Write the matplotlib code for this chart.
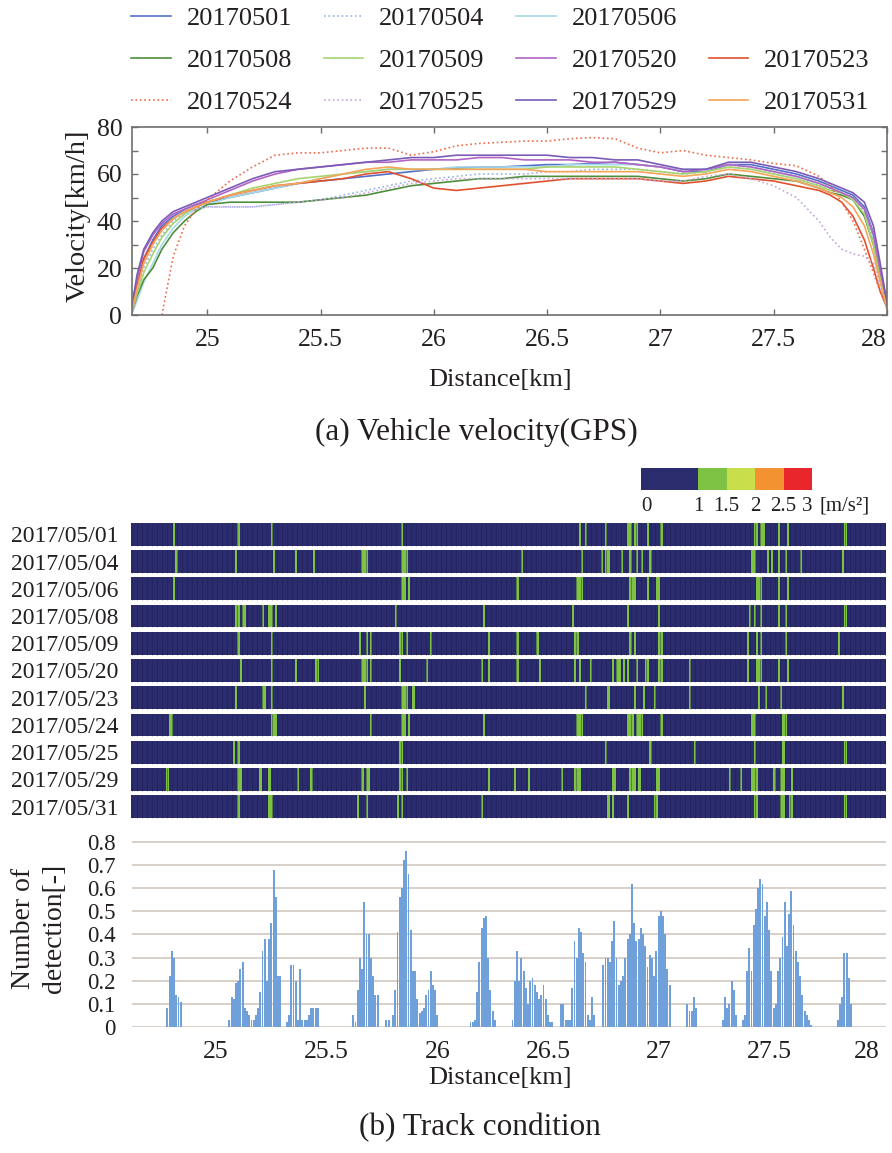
import numpy as np
import matplotlib
matplotlib.use('Agg')
import matplotlib.pyplot as plt
from matplotlib.colors import ListedColormap, BoundaryNorm
from matplotlib.lines import Line2D

plt.rcParams['font.family'] = ['Liberation Serif', 'DejaVu Serif']
plt.rcParams['mathtext.fontset'] = 'stix'

# ---------------- data: (a) vehicle velocity ----------------
dist_km = [24.67, 24.69, 24.72, 24.76, 24.80, 24.85, 24.90, 24.95, 25.0, 25.1, 25.2, 25.3,
           25.4, 25.5, 25.6, 25.7, 25.8, 25.9, 26.0, 26.1, 26.2, 26.3, 26.4, 26.5, 26.6,
           26.7, 26.8, 26.9, 27.0, 27.1, 27.2, 27.3, 27.4, 27.5, 27.6, 27.7, 27.75, 27.8,
           27.85, 27.9, 27.94, 27.97, 28.0]
nan = np.nan
v_20170501 = [3, 12, 24, 32, 38, 42, 45, 47, 48, 50, 52, 54, 56, 57, 58, 59, 60, 61, 62, 62.5, 63, 63,
              63.5, 64, 64, 64.5, 65, 64, 63, 61, 61, 64, 64, 62, 60, 57, 55, 53, 51, 46, 35, 20, 5]
v_20170504 = [2, 10, 20, 28, 34, 40, 43, 45, 46, 46, 46, 47, 48, 49, 51, 53, 55, 57, 58, 59, 60, 60,
              60, 61, 61, 62, 62, 62, 61, 60, 61, 63, 62, 60, 58, 55, 53, 52, 50, 44, 32, 18, 4]
v_20170506 = [1, 6, 14, 22, 30, 37, 42, 45, 47, 50, 52, 54, 56, 58, 60, 61, 62, 62, 62, 63, 63, 63,
              63, 63, 64, 64, 64, 64, 63, 62, 62, 64, 63, 61, 59, 56, 54, 52, 50, 45, 34, 20, 5]
v_20170508 = [2, 8, 15, 20, 28, 35, 40, 44, 47, 48, 48, 48, 48, 49, 50, 51, 53, 55, 56, 57, 58, 58,
              59, 59, 59, 59, 59, 59, 58, 57, 58, 60, 59, 58, 57, 54, 52, 51, 49, 42, 30, 16, 4]
v_20170509 = [2, 9, 18, 26, 33, 39, 43, 46, 48, 51, 54, 56, 58, 59, 60, 61, 62, 62, 62, 62, 62, 62,
              62, 63, 63, 63, 63, 62, 61, 60, 61, 63, 62, 60, 58, 55, 53, 52, 49, 43, 30, 16, 4]
v_20170520 = [4, 15, 27, 34, 39, 43, 45, 47, 49, 53, 57, 60, 62, 63, 64, 65, 65, 66, 66, 66, 67, 67,
              66, 66, 66, 65, 65, 64, 63, 61, 62, 64, 63, 61, 59, 56, 54, 52, 50, 45, 34, 19, 5]
v_20170523 = [3, 12, 24, 31, 37, 41, 44, 46, 48, 51, 53, 55, 56, 57, 58, 60, 61, 58, 54, 53, 54, 55,
              56, 57, 58, 58, 58, 58, 57, 56, 57, 59, 58, 57, 55, 53, 51, 48, 42, 32, 20, 10, 3]
v_20170524 = [nan, nan, nan, nan, 0, 25, 38, 45, 49, 57, 63, 68, 69, 69, 70, 71, 71, 68, 69.5, 72, 73,
              73.5, 74, 74, 75, 75.5, 75, 71, 69, 70, 68, 67, 66, 64.5, 63.5, 59, 55, 48, 40, 28, 18, 10, 4]
v_20170525 = [2, 10, 22, 30, 36, 41, 44, 45, 46, 46, 46, 47, 48, 49, 50, 52, 54, 56, 57, 58, 58, 58,
              58, 58, 58, 58, 58, 58, 57, 57, 59, 60, 58, 55, 50, 40, 33, 28, 26, 25, 22, 12, 3]
v_20170529 = [5, 17, 28, 35, 40, 44, 46, 48, 50, 54, 58, 61, 62, 63, 64, 65, 66, 67, 67, 68, 68, 68,
              68, 68, 67, 67, 66, 66, 64, 62, 62, 65, 65, 63, 61, 58, 56, 54, 52, 48, 38, 22, 5]
v_20170531 = [3, 11, 22, 30, 36, 41, 44, 46, 48, 51, 53, 55, 56, 58, 60, 62, 63, 62, 62, 62, 62, 62,
              62, 61, 61, 61, 61, 61, 60, 59, 60, 62, 61, 59, 57, 54, 52, 50, 46, 38, 26, 14, 3]

series_labels = ['20170501', '20170504', '20170506', '20170508', '20170509', '20170520',
                 '20170523', '20170524', '20170525', '20170529', '20170531']
series_values = [v_20170501, v_20170504, v_20170506, v_20170508, v_20170509, v_20170520,
                 v_20170523, v_20170524, v_20170525, v_20170529, v_20170531]
series_colors = ['#5570c8', '#93b3e8', '#a6d9ea', '#4f8f3c', '#a8d470', '#b264c4',
                 '#e0522f', '#ee6b4b', '#c5a4dd', '#7c5bb8', '#f4a55a']
series_styles = ['-', ':', '-', '-', '-', '-', '-', ':', ':', '-', '-']

# ---------------- data: (b) track condition map ----------------
row_labels = ['2017/05/01', '2017/05/04', '2017/05/06', '2017/05/08', '2017/05/09', '2017/05/20',
              '2017/05/23', '2017/05/24', '2017/05/25', '2017/05/29', '2017/05/31']
stripes_0501 = [24.818, 25.101, 25.259, 25.846, 26.645, 26.675, 26.765, 26.863, 26.878, 26.893, 26.908,
                26.953, 27.013, 27.435, 27.450, 27.465, 27.476, 27.548, 27.590, 27.842]
stripes_0504 = [24.822, 25.093, 25.266, 25.361, 25.447, 25.666, 25.673, 25.681, 25.846, 25.854, 25.861,
                26.389, 26.660, 26.750, 26.762, 26.773, 26.837, 26.878, 26.908, 26.923, 26.968, 27.428,
                27.440, 27.495, 27.518, 27.541, 27.578, 27.646, 27.834]
stripes_0506 = [24.818, 25.846, 25.858, 25.873, 26.370, 26.637, 26.645, 26.652, 26.878, 26.885, 26.893,
                26.953, 26.998, 27.006, 27.443, 27.455, 27.465, 27.548, 27.581]
stripes_0508 = [25.096, 25.108, 25.123, 25.131, 25.214, 25.244, 25.256, 25.271, 25.816, 26.215, 26.614,
                26.870, 27.006, 27.420, 27.435, 27.465, 27.548, 27.578, 27.842]
stripes_0509 = [25.108, 25.259, 25.658, 25.681, 25.703, 25.831, 25.846, 25.869, 25.979, 26.238, 26.361,
                26.456, 26.629, 26.637, 26.875, 26.893, 27.006, 27.013, 27.405, 27.450, 27.461, 27.470,
                27.571, 27.819]
stripes_0520 = [25.111, 25.251, 25.364, 25.455, 25.462, 25.663, 25.673, 25.688, 25.703, 25.839, 25.959,
                26.205, 26.235, 26.361, 26.461, 26.629, 26.642, 26.697, 26.795, 26.818, 26.825, 26.848,
                26.863, 26.901, 26.943, 26.953, 27.006, 27.013, 27.145, 27.405, 27.450, 27.458, 27.465,
                27.548, 27.586]
stripes_0523 = [25.093, 25.218, 25.229, 25.259, 25.676, 25.846, 25.858, 25.869, 25.891, 26.675, 26.780,
                26.893, 26.931, 26.983, 27.145, 27.458, 27.485, 27.556, 27.837]
stripes_0524 = [24.795, 24.803, 24.810, 25.251, 25.259, 25.266, 25.271, 25.703, 25.846, 25.858, 25.873,
                26.215, 26.637, 26.648, 26.657, 26.863, 26.873, 26.885, 26.901, 26.913, 26.923, 27.013,
                27.428, 27.435, 27.563, 27.578]
stripes_0525 = [25.086, 25.108, 25.831, 25.842, 26.762, 26.968, 27.164, 27.435, 27.563, 27.849]
stripes_0529 = [24.785, 25.101, 25.116, 25.203, 25.241, 25.376, 25.432, 25.666, 25.681, 25.696, 25.831,
                25.846, 25.869, 26.235, 26.355, 26.416, 26.566, 26.622, 26.632, 26.642, 26.795, 26.807,
                26.873, 26.885, 26.897, 26.916, 26.998, 27.009, 27.322, 27.379, 27.428, 27.440, 27.450,
                27.526, 27.556, 27.566, 27.605]
stripes_0531 = [25.108, 25.247, 25.256, 25.650, 25.681, 25.828, 25.846, 26.208, 26.780, 26.792, 26.870,
                26.983, 26.998, 27.435, 27.443, 27.556, 27.563, 27.593, 27.605, 27.849]
row_stripes = [stripes_0501, stripes_0504, stripes_0506, stripes_0508, stripes_0509, stripes_0520,
               stripes_0523, stripes_0524, stripes_0525, stripes_0529, stripes_0531]
base_accel = 0.5      # m/s^2, background level
stripe_accel = 1.2    # m/s^2, detected level

cbar_bounds = [0, 1, 1.5, 2, 2.5, 3]
cbar_labels = ['0', '1', '1.5', '2', '2.5', '3']
cbar_colors = ['#2b2c6e', '#7dc242', '#c9de4b', '#f39231', '#e9262b']

# ---------------- data: number of detection ----------------
det_start_km = [24.78, 25.06, 25.32, 25.62, 25.77, 25.80, 26.15, 26.34, 26.56, 26.75,
                27.13, 27.29, 27.38, 27.53, 27.81]
det_values = [
    [0.08, 0.22, 0.33, 0.30, 0.14, 0.13, 0.11],
    [0.03, 0.13, 0.12, 0.19, 0.20, 0.25, 0.28, 0.08, 0.07, 0.05, 0.03, 0.03, 0.05, 0.08, 0.15,
     0.33, 0.38, 0.20, 0.38, 0.45, 0.68, 0.56, 0.22, 0.22],
    [0.02, 0.05, 0.27, 0.27, 0.20, 0.03, 0.25, 0.03, 0.03, 0.03, 0.05, 0.08, 0.08, 0.08, 0.08],
    [0.05, 0.02, 0.16, 0.30, 0.25, 0.54, 0.40, 0.40, 0.30, 0.22, 0.14, 0.14],
    [0.03, 0.03],
    [0.05, 0.16, 0.41, 0.56, 0.60, 0.72, 0.76, 0.66, 0.42, 0.24, 0.24, 0.12, 0.06, 0.07, 0.08,
     0.14, 0.16, 0.24, 0.18, 0.16, 0.05],
    [0.02, 0.02, 0.03, 0.15, 0.28, 0.43, 0.47, 0.48, 0.30, 0.16, 0.07, 0.03],
    [0.03, 0.20, 0.33, 0.20, 0.30, 0.24, 0.17, 0.10, 0.20, 0.21, 0.18, 0.15, 0.12, 0.14, 0.18,
     0.12, 0.05, 0.02, 0.02],
    [0.10, 0.10, 0.03, 0.03, 0.03, 0.17, 0.37, 0.30, 0.43, 0.41, 0.32, 0.28, 0.05, 0.03, 0.13, 0.05],
    [0.27, 0.30, 0.30, 0.28, 0.37, 0.46, 0.30, 0.18, 0.20, 0.22, 0.30, 0.38, 0.40, 0.62, 0.45,
     0.37, 0.38, 0.43, 0.40, 0.35, 0.26, 0.31, 0.30, 0.22, 0.33, 0.48, 0.50, 0.48, 0.40, 0.25, 0.18],
    [0.10, 0.07, 0.07, 0.13, 0.08],
    [0.03, 0.13, 0.08, 0.10, 0.20, 0.16, 0.05],
    [0.03, 0.05, 0.24, 0.34, 0.24, 0.44, 0.51, 0.60, 0.64, 0.62, 0.48, 0.54, 0.42, 0.24, 0.08],
    [0.10, 0.24, 0.30, 0.39, 0.54, 0.35, 0.49, 0.59, 0.44, 0.33, 0.28, 0.22, 0.14, 0.07, 0.05,
     0.03, 0.01],
    [0.03, 0.10, 0.13, 0.32, 0.32, 0.21, 0.10],
]
det_bin_km = 0.01

x_ticks = [25, 25.5, 26, 26.5, 27, 27.5, 28]
x_tick_labels = ['25', '25.5', '26', '26.5', '27', '27.5', '28']

# ---------------- figure ----------------
W, H = 892, 1153
fig = plt.figure(figsize=(W / 100, H / 100), dpi=100)


def ax_px(x0, y0, x1, y1):
    return fig.add_axes([x0 / W, 1 - y1 / H, (x1 - x0) / W, (y1 - y0) / H])


def ftext(x, y, s, **kw):
    return fig.text(x / W, 1 - y / H, s, **kw)


TXT = '#231f20'

# (a) velocity
ax1 = ax_px(132, 127, 887, 315)
for lab, vals, col, ls in zip(series_labels, series_values, series_colors, series_styles):
    ax1.plot(dist_km, vals, color=col, ls=ls, lw=1.2, label=lab)
ax1.set_xlim(24.668, 28.0)
ax1.set_ylim(0, 80)
ax1.set_xticks(x_ticks)
ax1.set_xticklabels(x_tick_labels)
ax1.get_xticklabels()[-1].set_ha('right')
ax1.set_yticks([0, 20, 40, 60, 80])
ax1.set_yticks([10, 30, 50, 70], minor=True)
ax1.tick_params(which='both', direction='in', top=True, right=True, length=4,
                width=1, color='#6e6e6e', labelsize=18.5, labelcolor=TXT)
ax1.tick_params(axis='x', pad=10)
ax1.tick_params(axis='y', pad=7)
for sp in ax1.spines.values():
    sp.set_color('#6e6e6e')
    sp.set_linewidth(1.2)

ftext(500, 380, 'Distance[km]', ha='center', va='center', fontsize=19, color=TXT)
ftext(78, 216, 'Velocity[km/h]', ha='center', va='center', fontsize=20.5, rotation=90, color=TXT)
ftext(476, 432, '(a) Vehicle velocity(GPS)', ha='center', va='center', fontsize=22.5, color=TXT)

# legend: 3 rows x 4 columns (row 1 has three entries)
h, l = ax1.get_legend_handles_labels()
hd = dict(zip(l, h))
blank = Line2D([], [], color='none')
order = ['20170501', '20170508', '20170524', '20170504', '20170509', '20170525',
         '20170506', '20170520', '20170529', None, '20170523', '20170531']
handles = [hd[k] if k else blank for k in order]
labels = [k if k else '' for k in order]
fig.legend(handles, labels, ncol=4, loc='upper left', bbox_to_anchor=(131 / W, 1 - 7 / H),
           frameon=False, fontsize=19, handlelength=1.5, handletextpad=0.6,
           columnspacing=1.2, labelspacing=0.7, borderpad=0, borderaxespad=0,
           labelcolor=TXT)

# (b) colour map rows
cmap = ListedColormap(cbar_colors)
norm = BoundaryNorm(cbar_bounds, cmap.N)
axh = ax_px(131, 520.8, 886, 820.2)
x_edges = np.arange(24.62, 28.03 + 1e-9, 0.01)
tex_x = np.arange(24.625, 28.03, 0.0225)
for i, stripes in enumerate(row_stripes):
    vals = np.full(len(x_edges) - 1, base_accel)
    idx = np.clip(np.digitize(stripes, x_edges) - 1, 0, len(vals) - 1)
    vals[idx] = stripe_accel
    axh.pcolormesh(x_edges, [i + 0.08, i + 0.92], vals[None, :], cmap=cmap, norm=norm)
    axh.vlines(tex_x, i + 0.08, i + 0.92, color='#1a1a4a', lw=0.6, alpha=0.45)
axh.set_xlim(24.62, 28.028)
axh.set_ylim(11, 0)
axh.set_yticks(np.arange(11) + 0.5)
axh.set_yticklabels(row_labels)
axh.set_xticks([])
axh.tick_params(axis='y', length=0, pad=9, labelsize=17, labelcolor=TXT)
for sp in axh.spines.values():
    sp.set_visible(False)

# colour bar
cax = ax_px(641, 468, 812, 490)
mids = [(a + b) / 2 for a, b in zip(cbar_bounds[:-1], cbar_bounds[1:])]
cax.pcolormesh(cbar_bounds, [0, 1], np.array(mids)[None, :], cmap=cmap, norm=norm)
cax.set_xlim(0, 3)
cax.set_ylim(0, 1)
cax.axis('off')
for b, lab in zip(cbar_bounds, cbar_labels):
    ha = 'left' if b == cbar_bounds[0] else ('right' if b == cbar_bounds[-1] else 'center')
    cax.text(b, -0.75, lab, ha=ha, va='center', fontsize=15, color=TXT)
cax.text(3.14, -0.75, '[m/s²]', ha='left', va='center', fontsize=15, color=TXT)

# number of detection bars
axb = ax_px(132, 840.8, 886, 1027)
for start, vals in zip(det_start_km, det_values):
    xs = start + det_bin_km * np.arange(len(vals))
    axb.bar(xs, vals, width=det_bin_km * 0.85, color='#6fa0da', zorder=3, linewidth=0)
axb.set_xlim(24.62, 28.028)
axb.set_ylim(0, 0.805)
axb.set_yticks([0, 0.1, 0.2, 0.3, 0.4, 0.5, 0.6, 0.7, 0.8])
axb.set_yticklabels(['0', '0.1', '0.2', '0.3', '0.4', '0.5', '0.6', '0.7', '0.8'])
axb.set_xticks(x_ticks)
axb.set_xticklabels(x_tick_labels)
axb.get_xticklabels()[-1].set_ha('right')
axb.yaxis.grid(True, color='#d8cfc8', lw=1.4, zorder=0)
axb.set_axisbelow(True)
axb.tick_params(axis='both', length=0, labelcolor=TXT)
axb.tick_params(axis='y', pad=12, labelsize=16.5)
axb.tick_params(axis='x', pad=10, labelsize=18.5)
for sp in axb.spines.values():
    sp.set_visible(False)

ftext(24, 928, 'Number of', ha='center', va='center', fontsize=20, rotation=90, color=TXT)
ftext(55, 928, 'detection[-]', ha='center', va='center', fontsize=20, rotation=90, color=TXT)
ftext(500, 1078, 'Distance[km]', ha='center', va='center', fontsize=19, color=TXT)
ftext(480, 1128, '(b) Track condition', ha='center', va='center', fontsize=22.5, color=TXT)

fig.savefig('out.png', dpi=100)
